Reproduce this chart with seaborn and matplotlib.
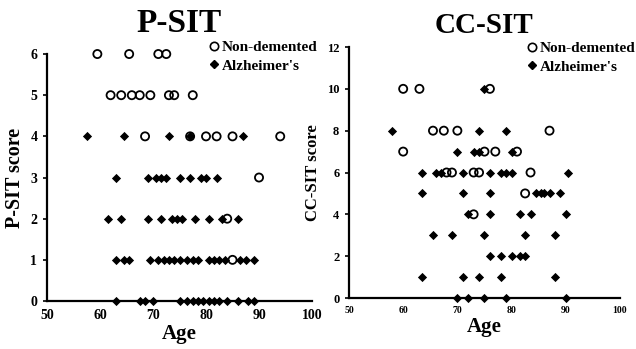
import matplotlib
matplotlib.use("Agg")
import matplotlib.pyplot as plt
import seaborn as sns
import pandas as pd
from matplotlib.lines import Line2D

# ---------------- data ----------------
groups = ["Non-demented", "Alzheimer's"]

psit_nd_age = [59.5, 65.5, 71, 72.5,
               62, 64, 66, 67.5, 69.5, 73, 74, 77.5,
               68.5, 77, 80, 82, 85, 94,
               90, 84, 85]
psit_nd_score = [6, 6, 6, 6,
                 5, 5, 5, 5, 5, 5, 5, 5,
                 4, 4, 4, 4, 4, 4,
                 3, 2, 1]

psit_ad_age = [57.5, 64.5, 73, 77, 87,
               63, 69, 70.5, 71.5, 72.5, 75, 77, 79, 80, 82,
               61.5, 64, 69, 71.5, 73.5, 74.5, 75.5, 78, 80.5, 83, 86,
               63, 64.5, 65.5, 69.5, 71, 72, 73, 74, 75, 76.5, 77.5, 78.5,
               80.5, 81.5, 82.5, 83.5, 86.5, 87.5, 89,
               63, 67.5, 68.5, 70, 75, 76.5, 77.5, 78.5, 79.5, 80.5, 81.5,
               82.5, 84, 86, 88, 89]
psit_ad_score = [4] * 5 + [3] * 10 + [2] * 11 + [1] * 19 + [0] * 16

ccsit_nd_age = [60, 63, 76,
                65.5, 67.5, 70, 87,
                60, 75, 77, 81,
                68, 69, 73, 74, 83.5,
                82.5,
                73]
ccsit_nd_score = [10, 10, 10,
                  8, 8, 8, 8,
                  7, 7, 7, 7,
                  6, 6, 6, 6, 6,
                  5,
                  4]

ccsit_ad_age = [75,
                58, 74, 79,
                70, 73, 74, 80,
                63.5, 66, 67, 71, 76, 78, 79, 80, 90.5,
                63.5, 71, 76, 84.5, 85.5, 86, 87, 89,
                72, 76, 81.5, 83.5, 90,
                65.5, 69, 75, 82.5, 88,
                76, 78, 80, 81.5, 82.5,
                63.5, 71, 74, 78, 88,
                70, 72, 75, 79, 90]
ccsit_ad_score = ([10] + [8] * 3 + [7] * 4 + [6] * 9 + [5] * 8 + [4] * 5 +
                  [3] * 5 + [2] * 5 + [1] * 5 + [0] * 5)

x_ticks = [50, 60, 70, 80, 90, 100]
psit_yticks = [0, 1, 2, 3, 4, 5, 6]
ccsit_yticks = [0, 2, 4, 6, 8, 10, 12]


def frame(nd_age, nd_score, ad_age, ad_score):
    return pd.DataFrame({
        "Age": list(nd_age) + list(ad_age),
        "score": list(nd_score) + list(ad_score),
        "group": [groups[0]] * len(nd_age) + [groups[1]] * len(ad_age),
    })


df_p = frame(psit_nd_age, psit_nd_score, psit_ad_age, psit_ad_score)
df_c = frame(ccsit_nd_age, ccsit_nd_score, ccsit_ad_age, ccsit_ad_score)

# ---------------- style ----------------
sns.set_theme(style="ticks")
plt.rcParams["font.family"] = ["Liberation Serif", "DejaVu Serif"]
plt.rcParams["font.weight"] = "bold"
for k in ["text.color", "axes.labelcolor", "xtick.color", "ytick.color",
          "axes.edgecolor"]:
    plt.rcParams[k] = "black"

fig = plt.figure(figsize=(6.36, 3.49), dpi=100)
ax1 = fig.add_axes([0.0739, 0.1375, 0.4167, 0.7077])
ax2 = fig.add_axes([0.5487, 0.1461, 0.4261, 0.7192])


def draw(ax, df, yticks, ylabel, title, tick_fs, xtick_fs, ylab_fs, title_fs,
         title_pad, leg_xy):
    nd = df[df["group"] == groups[0]]
    ad = df[df["group"] == groups[1]]
    sns.scatterplot(data=ad, x="Age", y="score", ax=ax, marker="D",
                    color="black", s=22, linewidth=0, clip_on=False,
                    legend=False, zorder=3)
    sns.scatterplot(data=nd, x="Age", y="score", ax=ax, marker="o",
                    facecolors="none", edgecolor="black", s=34,
                    linewidth=1.3, clip_on=False, legend=False, zorder=4)
    ax.set_xlim(50, 100)
    ax.set_ylim(yticks[0], yticks[-1])
    ax.set_xticks(x_ticks)
    ax.set_yticks(yticks)
    ax.set_xticklabels([str(t) for t in x_ticks], fontsize=xtick_fs, fontweight="bold")
    ax.set_yticklabels([str(t) for t in yticks], fontsize=tick_fs, fontweight="bold")
    ax.tick_params(axis="x", length=0, pad=6)
    ax.tick_params(axis="y", length=3, width=1.2, pad=4, color="black")
    for s in ["top", "right"]:
        ax.spines[s].set_visible(False)
    for s in ["left", "bottom"]:
        ax.spines[s].set_linewidth(1.6)
        ax.spines[s].set_color("black")
    ax.set_xlabel("Age", fontsize=15, fontweight="bold", labelpad=1)
    ax.set_ylabel(ylabel, fontsize=ylab_fs, fontweight="bold", labelpad=4)
    ax.set_title(title, fontsize=title_fs, fontweight="bold", pad=title_pad)
    handles = [
        Line2D([], [], marker="o", linestyle="none", markerfacecolor="none",
               markeredgecolor="black", markersize=6, markeredgewidth=1.2),
        Line2D([], [], marker="D", linestyle="none", color="black",
               markersize=4.5),
    ]
    ax.legend(handles, groups, loc="upper left", bbox_to_anchor=leg_xy,
              bbox_transform=fig.transFigure, frameon=False, borderpad=0,
              handletextpad=0.1, handlelength=0.8, labelspacing=0.3,
              prop={"size": 11, "weight": "bold"})


draw(ax1, df_p, psit_yticks, "P-SIT score", "P-SIT", 10, 10, 14.5, 24, 16,
     (200 / 636, 1 - 33 / 349))
draw(ax2, df_c, ccsit_yticks, "CC-SIT score", "CC-SIT", 9, 7, 12, 21, 10,
     (518 / 636, 1 - 34 / 349))

fig.savefig("out.png", dpi=100)
